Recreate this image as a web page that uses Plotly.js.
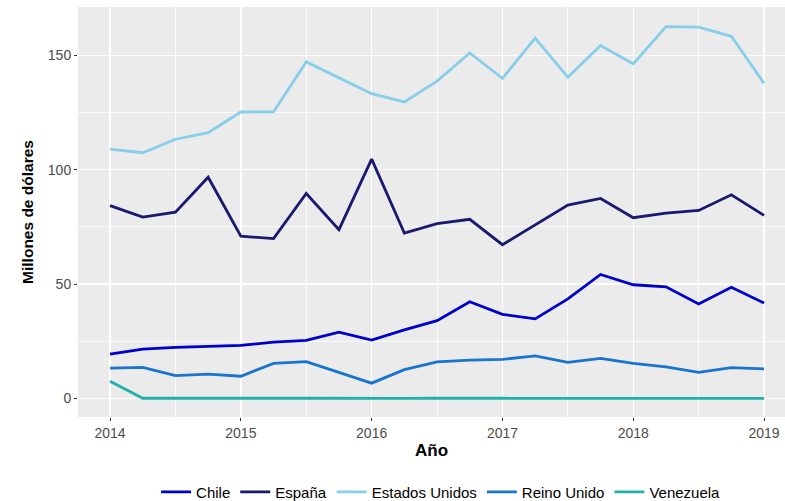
<!DOCTYPE html>
<html>
<head>
<meta charset="utf-8">
<script src="https://cdn.plot.ly/plotly-3.0.1.min.js"></script>
<style>html,body{margin:0;padding:0;background:#fff;}#chart{width:785px;height:501px;}</style>
</head>
<body>
<div id="chart"></div>
<script>
const periods = [2014, 2014.25, 2014.5, 2014.75, 2015, 2015.25, 2015.5, 2015.75, 2016, 2016.25, 2016.5, 2016.75, 2017, 2017.25, 2017.5, 2017.75, 2018, 2018.25, 2018.5, 2018.75, 2019];
const chile = [19.4, 21.6, 22.3, 22.7, 23.2, 24.6, 25.4, 29.0, 25.5, 30.0, 34.0, 42.3, 36.8, 34.8, 43.5, 54.2, 49.7, 48.8, 41.3, 48.6, 41.7];
const espana = [84.3, 79.3, 81.4, 96.7, 70.9, 69.9, 89.6, 73.8, 104.6, 72.3, 76.4, 78.3, 67.2, 75.8, 84.5, 87.4, 79.0, 81.0, 82.2, 89.0, 80.0];
const estadosUnidos = [109.0, 107.4, 113.3, 116.2, 125.2, 125.3, 147.1, 140.2, 133.2, 129.6, 138.7, 151.0, 139.9, 157.5, 140.4, 154.3, 146.2, 162.5, 162.3, 158.3, 137.7];
const reinoUnido = [13.3, 13.6, 10.0, 10.6, 9.7, 15.3, 16.1, 11.4, 6.7, 12.6, 16.0, 16.8, 17.1, 18.6, 15.8, 17.5, 15.3, 13.8, 11.4, 13.5, 12.9];
const venezuela = [7.5, 0.1, 0.1, 0.0, 0.0, 0.1, 0.1, 0.0, 0.0, 0.0, 0.1, 0.2, 0.1, 0.0, 0.0, 0.0, 0.0, 0.0, 0.0, 0.0, 0.0];
const seriesNames = ["Chile", "España", "Estados Unidos", "Reino Unido", "Venezuela"];
const seriesValues = [chile, espana, estadosUnidos, reinoUnido, venezuela];
const seriesColors = ["#0000CD", "#191970", "#87CEEB", "#1874CD", "#20B2AA"];
const xTicks = [2014, 2015, 2016, 2017, 2018, 2019];
const yTicks = [0, 50, 100, 150];

const traces = seriesNames.map((n, i) => ({
  type: 'scatter', mode: 'lines', name: n,
  x: periods, y: seriesValues[i],
  line: {color: seriesColors[i], width: 2.8}
}));

const fam = 'Liberation Sans, Arial, sans-serif';
const tickFont = {family: fam, size: 14, color: '#4D4D4D'};

const layout = {
  width: 785, height: 501,
  margin: {l: 78, r: 0, t: 7, b: 84, autoexpand: false},
  paper_bgcolor: '#FFFFFF',
  plot_bgcolor: '#EBEBEB',
  font: {family: fam, color: '#000'},
  xaxis: {
    range: [2013.755, 2019.16],
    tickmode: 'array', tickvals: xTicks, ticktext: xTicks.map(String),
    showgrid: true, gridcolor: '#FFFFFF', gridwidth: 1.5,
    minor: {tickmode: 'array', tickvals: [2013.5, 2014.5, 2015.5, 2016.5, 2017.5, 2018.5], showgrid: true, gridcolor: '#FFFFFF', gridwidth: 0.8, ticks: ''},
    zeroline: false, showline: false, automargin: false,
    ticks: 'outside', ticklen: 3, tickwidth: 1.1, tickcolor: '#333333',
    tickfont: tickFont,
    title: {text: 'Año', font: {family: fam, size: 17, color: '#000', weight: 'bold'}, standoff: 4}
  },
  yaxis: {
    range: [-8.1, 171.1],
    tickmode: 'array', tickvals: yTicks, ticktext: yTicks.map(String),
    showgrid: true, gridcolor: '#FFFFFF', gridwidth: 1.5,
    minor: {tickmode: 'array', tickvals: [25, 75, 125], showgrid: true, gridcolor: '#FFFFFF', gridwidth: 0.8, ticks: ''},
    zeroline: false, showline: false, automargin: false,
    ticks: 'outside', ticklen: 3, tickwidth: 1.1, tickcolor: '#333333',
    tickfont: tickFont,
    title: {text: 'Millones de dólares', font: {family: fam, size: 15.5, color: '#000', weight: 'bold'}, standoff: 10}
  },
  showlegend: true,
  legend: {
    orientation: 'h', x: 0.5135, xanchor: 'center', xref: 'paper',
    y: -0.183, yanchor: 'middle',
    font: {family: fam, size: 15, color: '#000'},
    bgcolor: 'rgba(0,0,0,0)',
    itemwidth: 30, tracegroupgap: 0
  }
};

Plotly.newPlot('chart', traces, layout, {displayModeBar: false, staticPlot: true});
</script>
</body>
</html>
